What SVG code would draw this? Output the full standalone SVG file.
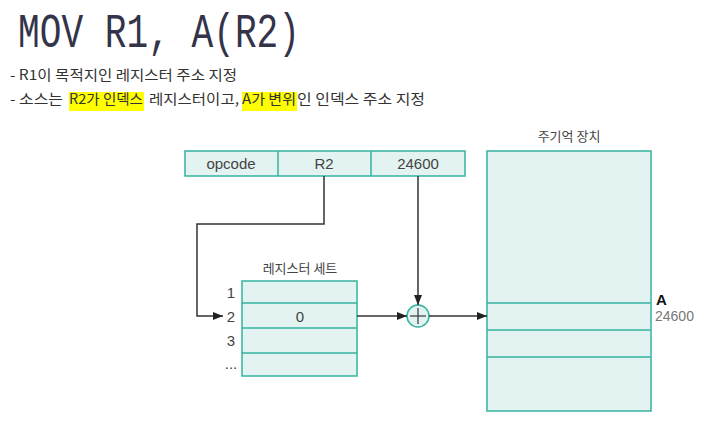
<svg xmlns="http://www.w3.org/2000/svg" width="702" height="421" viewBox="0 0 702 421">
<style>
.box{fill:#e2f3f1;stroke:#35b39e;stroke-width:1.5}
.ln{fill:none;stroke:#333;stroke-width:1.5}
.lbl{font-family:"Liberation Sans",Arial,sans-serif;font-size:15px;fill:#444}
.kr{font-family:"Noto Sans CJK KR","Noto Sans",sans-serif;font-size:14px;fill:#333}
.krs{font-family:"Noto Sans CJK KR","Noto Sans",sans-serif;font-size:13px;fill:#444}
.hl{fill:#ffff00}
</style>
<defs>
<marker id="ah" viewBox="0 0 10 8" refX="10" refY="4" markerWidth="10" markerHeight="8" markerUnits="userSpaceOnUse" orient="auto">
<path d="M0,0 L10,4 L0,8 Z" fill="#222"/>
</marker>
</defs>
<rect width="702" height="421" fill="#ffffff"/>
<g id="title">
<text x="18" y="47" font-family="Liberation Mono,monospace" font-size="48" fill="#33334a" textLength="282" lengthAdjust="spacingAndGlyphs">MOV R1, A(R2)</text>
</g>
<g id="notes">
<rect class="hl" x="69" y="92" width="75" height="19"/>
<rect class="hl" x="242" y="92" width="55" height="19"/>
<text class="kr" x="10" y="80" textLength="227" lengthAdjust="spacingAndGlyphs">- R1이 목적지인 레지스터 주소 지정</text>
<text class="kr" x="10" y="104" textLength="53" lengthAdjust="spacingAndGlyphs">- 소스는</text>
<text class="kr" x="69" y="104" textLength="74" lengthAdjust="spacingAndGlyphs">R2가 인덱스</text>
<text class="kr" x="149" y="104" textLength="90" lengthAdjust="spacingAndGlyphs">레지스터이고,</text>
<text class="kr" x="242" y="104" textLength="54" lengthAdjust="spacingAndGlyphs">A가 변위</text>
<text class="kr" x="297" y="104" textLength="128" lengthAdjust="spacingAndGlyphs">인 인덱스 주소 지정</text>
</g>
<g id="instruction">
<rect class="box" x="185" y="151" width="280" height="25"/>
<line class="box" x1="278" y1="151" x2="278" y2="176"/>
<line class="box" x1="371" y1="151" x2="371" y2="176"/>
<text class="lbl" x="231" y="169" text-anchor="middle">opcode</text>
<text class="lbl" x="324" y="169" text-anchor="middle">R2</text>
<text class="lbl" x="418" y="169" text-anchor="middle">24600</text>
</g>
<g id="register-set">
<text class="krs" x="300" y="273" text-anchor="middle">레지스터 세트</text>
<rect class="box" x="242" y="281" width="115" height="95"/>
<line class="box" x1="242" y1="303" x2="357" y2="303"/>
<line class="box" x1="242" y1="328" x2="357" y2="328"/>
<line class="box" x1="242" y1="353" x2="357" y2="353"/>
<text class="lbl" x="231" y="298" text-anchor="middle">1</text>
<text class="lbl" x="231" y="322" text-anchor="middle">2</text>
<text class="lbl" x="231" y="346" text-anchor="middle">3</text>
<text class="lbl" x="231" y="369" text-anchor="middle">...</text>
<text class="lbl" x="300" y="322" text-anchor="middle">0</text>
</g>
<g id="adder">
<circle cx="418" cy="316" r="11" fill="#e2f3f1" stroke="#35b39e" stroke-width="1.5"/>
<line x1="410" y1="316" x2="426" y2="316" stroke="#444" stroke-width="1.3"/>
<line x1="418" y1="308" x2="418" y2="324" stroke="#444" stroke-width="1.3"/>
</g>
<g id="memory">
<text class="krs" x="569" y="141" text-anchor="middle">주기억 장치</text>
<rect class="box" x="487" y="151" width="164" height="260"/>
<line class="box" x1="487" y1="303" x2="651" y2="303"/>
<line class="box" x1="487" y1="330" x2="651" y2="330"/>
<line class="box" x1="487" y1="357" x2="651" y2="357"/>
<text x="656" y="305" font-family="Liberation Sans,Arial,sans-serif" font-size="15" font-weight="bold" fill="#111">A</text>
<text x="655" y="321" font-family="Liberation Sans,Arial,sans-serif" font-size="14" fill="#777">24600</text>
</g>
<g id="connectors">
<path class="ln" d="M324,176 V224 H197 V316 H223" marker-end="url(#ah)"/>
<path class="ln" d="M418,176 V305" marker-end="url(#ah)"/>
<path class="ln" d="M357,316 H407" marker-end="url(#ah)"/>
<path class="ln" d="M429,316 H487" marker-end="url(#ah)"/>
</g>
</svg>
